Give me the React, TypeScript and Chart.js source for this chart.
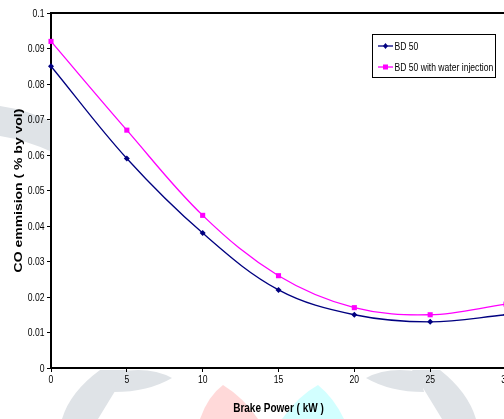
import { useEffect, useRef } from "react";
import { Chart, registerables } from "chart.js";

Chart.register(...registerables);

// Brake power (kW) and CO emission (% by vol) for the two fuel cases
const brakePower = [0, 5, 10, 15, 20, 25, 30];
const coBD50 = [0.085, 0.059, 0.038, 0.022, 0.015, 0.013, 0.015];
const coBD50Water = [0.092, 0.067, 0.043, 0.026, 0.017, 0.015, 0.018];

const seriesNames = ["BD 50", "BD 50 with water injection"];
const seriesColors = ["#000080", "#FF00FF"];
const seriesMarkers = ["rectRot", "rect"];

const xTickValues = [0, 5, 10, 15, 20, 25, 30];
const yTickValues = [0, 0.01, 0.02, 0.03, 0.04, 0.05, 0.06, 0.07, 0.08, 0.09, 0.1];
const yTickLabels = ["0", "0.01", "0.02", "0.03", "0.04", "0.05", "0.06", "0.07", "0.08", "0.09", "0.1"];

const xTitle = "Brake Power ( kW )";
const yTitle = "CO emmision ( % by vol)";

const FONT = "'Liberation Sans', Arial, sans-serif";

const CANVAS_W = 560;
const CANVAS_H = 419;

// Draw text squeezed horizontally (condensed look)
function squeezedText(
  ctx: CanvasRenderingContext2D,
  text: string,
  x: number,
  y: number,
  font: string,
  sx: number,
  align: CanvasTextAlign
) {
  ctx.save();
  ctx.translate(x, y);
  ctx.scale(sx, 1);
  ctx.font = font;
  ctx.fillStyle = "#000";
  ctx.textAlign = align;
  ctx.textBaseline = "middle";
  ctx.fillText(text, 0, 0);
  ctx.restore();
}

// Faint emblem shapes behind the chart
const backdrop = {
  id: "backdrop",
  beforeDraw(chart: any) {
    const { ctx, chartArea } = chart;
    ctx.save();
    ctx.fillStyle = "#fff";
    ctx.fillRect(0, 0, chart.width, chart.height);

    ctx.fillStyle = "#dfe3e7";
    // band at the left edge
    ctx.beginPath();
    ctx.moveTo(0, 106);
    ctx.quadraticCurveTo(28, 110, 52, 122);
    ctx.lineTo(52, 152);
    ctx.quadraticCurveTo(26, 140, 0, 136);
    ctx.closePath();
    ctx.fill();

    // left leaves below the axis
    ctx.beginPath();
    ctx.moveTo(62, 419);
    ctx.quadraticCurveTo(70, 392, 100, 370);
    ctx.lineTo(128, 370);
    ctx.quadraticCurveTo(112, 396, 98, 419);
    ctx.closePath();
    ctx.fill();
    ctx.beginPath();
    ctx.moveTo(118, 372);
    ctx.quadraticCurveTo(150, 366, 172, 378);
    ctx.quadraticCurveTo(148, 392, 114, 392);
    ctx.closePath();
    ctx.fill();

    // right leaves below the axis
    ctx.beginPath();
    ctx.moveTo(476, 419);
    ctx.quadraticCurveTo(468, 392, 440, 370);
    ctx.lineTo(412, 370);
    ctx.quadraticCurveTo(428, 396, 442, 419);
    ctx.closePath();
    ctx.fill();
    ctx.beginPath();
    ctx.moveTo(420, 372);
    ctx.quadraticCurveTo(388, 366, 366, 378);
    ctx.quadraticCurveTo(390, 392, 424, 392);
    ctx.closePath();
    ctx.fill();

    // pink and cyan fans under the axis title
    ctx.fillStyle = "#ffd9d9";
    ctx.beginPath();
    ctx.moveTo(200, 419);
    ctx.quadraticCurveTo(208, 396, 223, 385);
    ctx.quadraticCurveTo(244, 398, 258, 419);
    ctx.closePath();
    ctx.fill();
    ctx.fillStyle = "#d2ffff";
    ctx.beginPath();
    ctx.moveTo(282, 419);
    ctx.quadraticCurveTo(298, 396, 318, 385);
    ctx.quadraticCurveTo(334, 398, 344, 419);
    ctx.closePath();
    ctx.fill();

    // plot area is white
    ctx.fillStyle = "#fff";
    ctx.fillRect(chartArea.left, chartArea.top, chartArea.right - chartArea.left, chartArea.bottom - chartArea.top);
    ctx.restore();
  },
};

// Frame line along the top of the plot area
const topFrame = {
  id: "topFrame",
  beforeDatasetsDraw(chart: any) {
    const { ctx, chartArea } = chart;
    ctx.save();
    ctx.strokeStyle = "#000";
    ctx.lineWidth = 2;
    ctx.beginPath();
    ctx.moveTo(chartArea.left - 1, chartArea.top);
    ctx.lineTo(chartArea.right + 40, chartArea.top);
    ctx.stroke();
    ctx.restore();
  },
};

// Tick labels and axis titles in a condensed style
const axisText = {
  id: "axisText",
  afterDraw(chart: any) {
    const { ctx, chartArea, scales } = chart;
    const xs = scales.x;
    const ys = scales.y;
    xTickValues.forEach((v) => {
      squeezedText(ctx, String(v), xs.getPixelForValue(v), 380, `11px ${FONT}`, 0.78, "center");
    });
    yTickValues.forEach((v, i) => {
      squeezedText(ctx, yTickLabels[i], 44.5, ys.getPixelForValue(v) + 0.5, `11px ${FONT}`, 0.78, "right");
    });
    squeezedText(ctx, xTitle, (chartArea.left + chartArea.right) / 2, 408, `bold 13px ${FONT}`, 0.77, "center");

    // y title, rotated and stretched along its length
    ctx.save();
    ctx.translate(19, (chartArea.top + chartArea.bottom) / 2);
    ctx.rotate(-Math.PI / 2);
    ctx.scale(1.27, 1);
    ctx.font = `bold 11px ${FONT}`;
    ctx.fillStyle = "#000";
    ctx.textAlign = "center";
    ctx.textBaseline = "middle";
    ctx.fillText(yTitle, 0, 0);
    ctx.restore();
  },
};

// Boxed legend in the upper right of the plot
const boxLegend = {
  id: "boxLegend",
  afterDraw(chart: any) {
    const { ctx } = chart;
    const x = 372.5;
    const y = 34.5;
    const w = 123;
    const h = 43;
    ctx.save();
    ctx.fillStyle = "#fff";
    ctx.fillRect(x, y, w, h);
    ctx.strokeStyle = "#000";
    ctx.lineWidth = 1;
    ctx.strokeRect(x, y, w, h);
    const rows = [46, 67];
    chart.data.datasets.forEach((ds: any, i: number) => {
      const ry = rows[i];
      ctx.strokeStyle = ds.borderColor;
      ctx.lineWidth = 1.3;
      ctx.beginPath();
      ctx.moveTo(378, ry);
      ctx.lineTo(393, ry);
      ctx.stroke();
      ctx.fillStyle = ds.borderColor;
      if (ds.pointStyle === "rect") {
        ctx.fillRect(383, ry - 2.5, 5, 5);
      } else {
        ctx.beginPath();
        ctx.moveTo(385.5, ry - 3);
        ctx.lineTo(388, ry);
        ctx.lineTo(385.5, ry + 3);
        ctx.lineTo(383, ry);
        ctx.closePath();
        ctx.fill();
      }
      squeezedText(ctx, ds.label, 394.5, ry + 0.5, `11px ${FONT}`, 0.78, "left");
    });
    ctx.restore();
  },
};

export default function App() {
  const canvasRef = useRef<HTMLCanvasElement | null>(null);

  useEffect(() => {
    document.body.style.margin = "0";
    document.body.style.overflow = "hidden";
    const canvas = canvasRef.current;
    if (!canvas) return;

    const series = [coBD50, coBD50Water];
    const tickGrid = {
      display: true,
      drawOnChartArea: false,
      drawTicks: true,
      tickLength: 4,
      color: "#000",
      lineWidth: 1,
    };
    const chart = new Chart(canvas, {
      type: "line",
      data: {
        datasets: series.map((vals, i) => ({
          label: seriesNames[i],
          data: brakePower.map((x, j) => ({ x, y: vals[j] })),
          borderColor: seriesColors[i],
          backgroundColor: seriesColors[i],
          borderWidth: 1.3,
          pointStyle: seriesMarkers[i] as any,
          pointRadius: i === 0 ? 3 : 3.6,
          pointBorderWidth: 0,
          tension: 0.36,
          fill: false,
          clip: false as any,
        })),
      },
      options: {
        animation: false,
        responsive: false,
        maintainAspectRatio: false,
        layout: { padding: { top: 13, right: CANVAS_W - 506, left: 0, bottom: 0 } },
        plugins: {
          legend: { display: false },
          tooltip: { enabled: false },
        },
        scales: {
          x: {
            type: "linear",
            min: 0,
            max: 30,
            afterFit: (s: any) => {
              s.height = CANVAS_H - 368;
            },
            ticks: { stepSize: 5, display: false, autoSkip: false },
            grid: tickGrid,
            border: { display: true, color: "#000", width: 2 },
          },
          y: {
            min: 0,
            max: 0.1,
            afterFit: (s: any) => {
              s.width = 51;
            },
            ticks: { stepSize: 0.01, display: false },
            grid: tickGrid,
            border: { display: true, color: "#000", width: 2 },
          },
        },
      },
      plugins: [backdrop, topFrame, axisText, boxLegend],
    });

    return () => chart.destroy();
  }, []);

  return (
    <div
      style={{
        position: "fixed",
        left: 0,
        top: 0,
        width: 504,
        height: 419,
        overflow: "hidden",
        background: "#fff",
      }}
    >
      <canvas
        ref={canvasRef}
        width={CANVAS_W}
        height={CANVAS_H}
        style={{ width: CANVAS_W, height: CANVAS_H, display: "block" }}
      />
    </div>
  );
}
